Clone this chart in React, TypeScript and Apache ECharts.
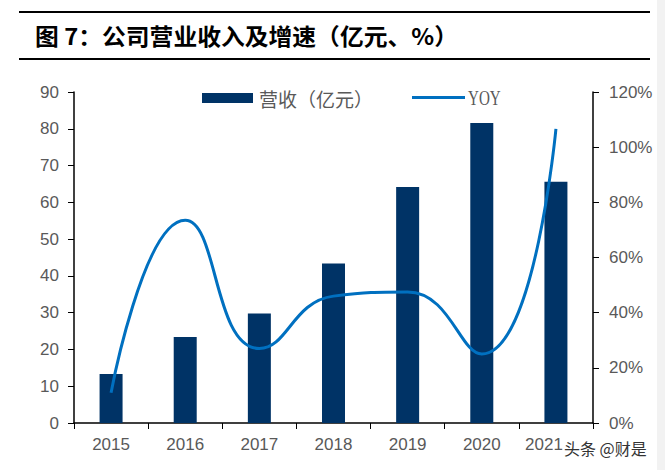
import React, { useEffect, useRef } from "react";
import * as echarts from "echarts";

const categories = ["2015", "2016", "2017", "2018", "2019", "2020", "2021"];
const revenue = [13.3, 23.4, 29.8, 43.4, 64.2, 81.6, 65.6];
const yoy = [11, 73.5, 27, 46, 47.5, 25, 106.6];
const seriesNames = ["营收（亿元）", "YOY"];
const titleText = "图 7：公司营业收入及增速（亿元、%）";
const watermark = "头条 @财是";

export default function App() {
  const ref = useRef<HTMLDivElement>(null);
  useEffect(() => {
    if (!ref.current) return;
    const chart = echarts.init(ref.current, null, { renderer: "svg" });
    const axisLabel = {
      color: "#595959",
      fontSize: 17,
      fontFamily: "Liberation Sans, Arial, sans-serif",
    };
    const catData = categories.map((c, i) =>
      i === categories.length - 1 ? { value: c, textStyle: { padding: [0, 24, 0, 0] } } : c
    );
    chart.setOption({
      animation: false,
      backgroundColor: "#fff",
      grid: { left: 74, right: 72, top: 92, bottom: 47 },
      xAxis: {
        type: "category",
        data: catData,
        axisLine: { lineStyle: { color: "#000", width: 1.5 } },
        axisTick: { show: true, alignWithLabel: false, lineStyle: { color: "#000" }, length: 6 },
        axisLabel: { ...axisLabel, margin: 13 },
      },
      yAxis: [
        {
          type: "value",
          min: 0,
          max: 90,
          interval: 10,
          splitLine: { show: false },
          axisLine: { show: true, lineStyle: { color: "#000", width: 1.5 } },
          axisTick: { show: true, lineStyle: { color: "#000" }, length: 6 },
          axisLabel: { ...axisLabel, margin: 15 },
        },
        {
          type: "value",
          min: 0,
          max: 120,
          interval: 20,
          splitLine: { show: false },
          axisLine: { show: true, lineStyle: { color: "#000", width: 1.5 } },
          axisTick: { show: true, lineStyle: { color: "#000" }, length: 6 },
          axisLabel: { ...axisLabel, margin: 16, formatter: "{value}%" },
        },
      ],
      series: [
        {
          name: seriesNames[0],
          type: "bar",
          data: revenue,
          barWidth: 23,
          itemStyle: { color: "#003366" },
        },
        {
          name: seriesNames[1],
          type: "line",
          yAxisIndex: 1,
          data: yoy,
          smooth: 0.5,
          symbol: "none",
          lineStyle: { color: "#0070C0", width: 3 },
          itemStyle: { color: "#0070C0" },
        },
      ],
      graphic: [
        { type: "line", shape: { x1: 19, y1: 12, x2: 650, y2: 12 }, style: { stroke: "#000", lineWidth: 2 } },
        { type: "line", shape: { x1: 19, y1: 59, x2: 650, y2: 59 }, style: { stroke: "#000", lineWidth: 2 } },
        {
          type: "text",
          x: 35,
          y: 35,
          scaleX: 1.035,
          style: {
            text: titleText,
            fill: "#000",
            fontSize: 23,
            fontWeight: "bold",
            fontFamily: "Noto Sans CJK SC, sans-serif",
            verticalAlign: "middle",
          },
        },
        // legend
        { type: "rect", shape: { x: 202, y: 93, width: 51, height: 10 }, style: { fill: "#003366" } },
        {
          type: "text",
          x: 259,
          y: 98,
          style: {
            text: seriesNames[0],
            fill: "#595959",
            fontSize: 19,
            fontFamily: "Noto Sans CJK SC, sans-serif",
            verticalAlign: "middle",
          },
        },
        { type: "line", shape: { x1: 412, y1: 97.5, x2: 465, y2: 97.5 }, style: { stroke: "#0070C0", lineWidth: 3 } },
        {
          type: "text",
          x: 468,
          y: 98,
          scaleX: 0.72,
          style: {
            text: seriesNames[1],
            fill: "#595959",
            fontSize: 21,
            fontFamily: "Liberation Serif, serif",
            verticalAlign: "middle",
          },
        },
        {
          type: "text",
          x: 564,
          y: 448,
          style: {
            text: watermark,
            fill: "#333",
            fontSize: 16,
            fontFamily: "Noto Sans CJK SC, sans-serif",
            verticalAlign: "middle",
          },
        },
        { type: "rect", shape: { x: 657, y: 0, width: 8, height: 470 }, style: { fill: "#f2f2f2" } },
      ],
    });
    return () => chart.dispose();
  }, []);
  return <div ref={ref} style={{ width: 665, height: 470, position: "absolute", left: 0, top: 0 }} />;
}
